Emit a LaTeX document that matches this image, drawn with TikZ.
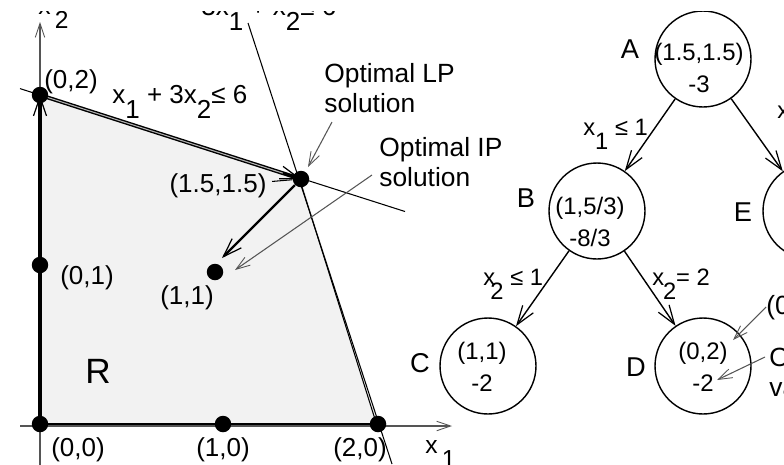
\documentclass[tikz,border=0pt]{standalone}
\usepackage{fontspec}
\setmainfont{Liberation Sans}
\usetikzlibrary{arrows.meta, calc}
\definecolor{regiongray}{RGB}{242,242,242}
\definecolor{leadgray}{RGB}{85,85,85}
\newcommand{\lowsub}[2][0em]{\kern#1\raisebox{-0.6em}{#2}}

\tikzset{
  bbarb/.tip={Straight Barb[length=3.8mm, width=2.6mm, line width=0.7pt]},
  sbarb/.tip={Straight Barb[length=2.8mm, width=1.9mm, line width=0.5pt]},
  dot/.style={circle, fill=black, inner sep=0pt, minimum size=0.33cm},
  ptlbl/.style={font=\fontsize{14.8}{17}\selectfont, inner sep=0pt},
  note/.style={font=\fontsize{15}{17}\selectfont, align=left, inner sep=0pt, anchor=north west},
  axisline/.style={line width=0.6pt, leadgray},
  cline/.style={line width=0.6pt},
  lead/.style={line width=0.6pt, leadgray, -sbarb},
  state/.style={draw, circle, line width=0.8pt, minimum size=1.92cm, inner sep=0pt},
  val/.style={font=\fontsize{13.6}{18.5}\selectfont, align=center, inner sep=0pt},
  tag/.style={font=\fontsize{15.5}{15.5}\selectfont, inner sep=0pt},
  cond/.style={font=\fontsize{13.5}{15}\selectfont, anchor=base west, inner sep=0pt},
  branch/.style={line width=0.8pt, -bbarb}
}

\begin{document}
\begin{tikzpicture}[x=0.02cm, y=-0.02cm]
    \useasboundingbox (0,0) rectangle (784,464);
    \clip (0,11) rectangle (784,464);

    % Corners of the region
    \coordinate (c00) at (40,424);
    \coordinate (c02) at (40,95);
    \coordinate (c15) at (301,179);
    \coordinate (c20) at (378,424);

    % Feasible region
    \fill[regiongray] (c00) -- (c02) -- (c15) -- (c20) -- cycle;
    \node[font=\fontsize{20}{20}\selectfont, inner sep=0pt] (R) at (98,371) {R};

    % Axes
    \coordinate (x1end) at (452,426);
    \coordinate (x2end) at (40,22);
    \draw[axisline, -sbarb] (20,426) -- (x1end);
    \draw[axisline, -sbarb] (40,470) -- (x2end);
    \node[ptlbl, font=\fontsize{14}{14}\selectfont, anchor=base west] (x1lbl) at (425,453) {x\,\lowsub{1}};
    \node[ptlbl, font=\fontsize{14}{14}\selectfont, anchor=base west] (x2lbl) at (38,14) {x\,\lowsub{2}};

    % Constraint lines
    \draw[cline] (20,88.6) -- (405,211.5);
    \draw[cline] (248,23) -- (392,464);
    \node[ptlbl, anchor=base west] (con1) at (112,103) {x\lowsub{1} + 3x\lowsub{2}≤ 6};
    \node[ptlbl, anchor=base west] (con2) at (201,15) {3x\lowsub{1} + x\lowsub{2}≤ 6};

    % Simplex path along the boundary
    \draw[line width=1.6pt] (c00) -- (c20);
    \draw[line width=2.8pt, -bbarb] (c00) -- (c02);
    \draw[line width=2.2pt, -bbarb] (c02) -- (c15);
    \draw[line width=0.6pt, gray!60] (c02) -- ($(c02)!0.93!(c15)$);
    \draw[line width=0.6pt] ([xshift=-0.03cm]c15) -- ([xshift=-0.03cm]c20);

    % Lattice points
    \foreach \n/\x/\y in {p00/40/424, p01/40/265, p02/40/95, p10/223/424,
                          p11/215/272, p15/301/179, p20/378/424}
        \node[dot] (\n) at (\x,\y) {};

    % Point labels
    \node[ptlbl] (l02) at (71,82) {(0,2)};
    \node[ptlbl] (l01) at (87,278) {(0,1)};
    \node[ptlbl] (l11) at (187,298) {(1,1)};
    \node[ptlbl] (l15) at (218,186) {(1.5,1.5)};
    \node[ptlbl] (l00) at (78,450) {(0,0)};
    \node[ptlbl] (l10) at (223,450) {(1,0)};
    \node[ptlbl] (l20) at (360,450) {(2,0)};
    \draw[line width=0.6pt, shorten <=3pt] (l15) -- (p15);

    % Rounding step
    \coordinate (rtip) at (222,258);
    \draw[line width=1.3pt, -bbarb] (p15) -- (rtip);

    % Notes
    \node[note] (lpnote) at (324,63) {Optimal LP\\solution};
    \node[note] (ipnote) at (379,137) {Optimal IP\\solution};
    \coordinate (lptail) at (332,122);
    \coordinate (lphead) at (308,167);
    \coordinate (iptail) at (372,175);
    \coordinate (iphead) at (235,270);
    \draw[lead] (lptail) -- (lphead);
    \draw[lead] (iptail) -- (iphead);

    % Branch and bound tree
    \node[state] (A) at (703,59) {};
    \node[state] (B) at (597,211) {};
    \node[state] (E) at (811,211) {};
    \node[state] (C) at (488,366) {};
    \node[state] (D) at (703,366) {};
    \node[val] (Aval) at (699,68) {(1.5,1.5)\\-3};
    \node[val] (Bval) at (590,222) {(1,5/3)\\-8/3};
    \node[val] (Cval) at (482,367) {(1,1)\\-2};
    \node[val] (Dval) at (703,367) {(0,2)\\-2};
    \node[tag] (Aname) at (630,49) {A};
    \node[tag] (Bname) at (526,198) {B};
    \node[tag] (Cname) at (420,363) {C};
    \node[tag] (Dname) at (636,367) {D};
    \node[tag] (Ename) at (743,212) {E};

    \draw[branch] (A) -- (B);
    \draw[branch] (A) -- (E);
    \draw[branch] (B) -- (C);
    \draw[branch] (B) -- (D);
    \node[cond] (ABcond) at (583,135) {x\lowsub{1} ≤ 1};
    \node[cond] (AEcond) at (777,118) {x\lowsub{1} ≥ 2};
    \node[cond] (BCcond) at (483,285) {x\lowsub[-0.2em]{2} ≤ 1};
    \node[cond] (BDcond) at (652,285) {x\lowsub[-0.05em]{2}= 2};

    % Notes on node D
    \node[note] (altsol) at (766,295) {(0,2)};
    \node[note] (altval) at (769,347) {Optimal\\value};
    \coordinate (dtail1) at (766,307);
    \coordinate (dhead1) at (733,340);
    \coordinate (dtail2) at (765,357);
    \coordinate (dhead2) at (717,380);
    \draw[lead] (dtail1) -- (dhead1);
    \draw[lead] (dtail2) -- (dhead2);
\end{tikzpicture}
\end{document}
